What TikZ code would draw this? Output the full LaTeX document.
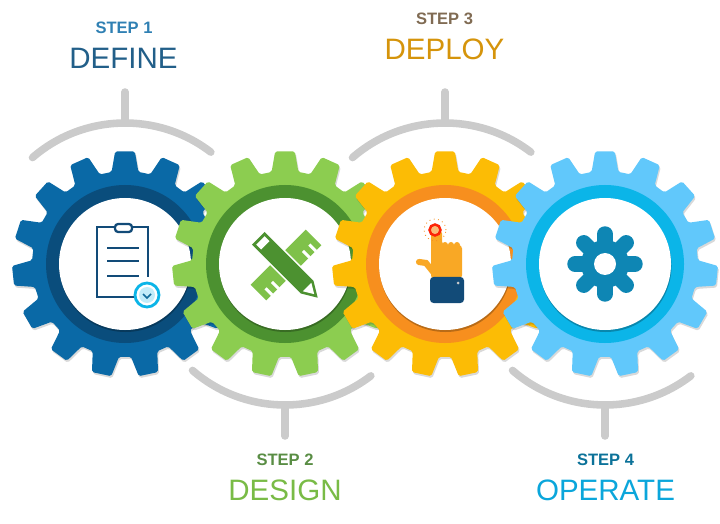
\documentclass[tikz,border=0pt]{standalone}
\usepackage{fontspec}
\setmainfont{Liberation Sans}
\usetikzlibrary{calc}

\definecolor{defineBlue}{HTML}{0A69A6}
\definecolor{defineRing}{HTML}{0A4D7C}
\definecolor{designGreen}{HTML}{8CCD50}
\definecolor{designRing}{HTML}{4C9130}
\definecolor{deployYellow}{HTML}{FCBC05}
\definecolor{deployRing}{HTML}{F78F1E}
\definecolor{operateBlue}{HTML}{61C8FB}
\definecolor{operateRing}{HTML}{0BB5E8}
\definecolor{armGray}{HTML}{CBCBCB}
\definecolor{iconNavy}{HTML}{124B78}
\definecolor{handOrange}{HTML}{F9A825}
\definecolor{flowerBlue}{HTML}{0E86B4}

\tikzset{
	arm/.style={draw=armGray, line width=4.3pt, line cap=round},
	steplabel/.style={font=\bfseries\fontsize{9.4}{12}\selectfont, anchor=center},
	titlelabel/.style={font=\fontsize{16.8}{20}\selectfont, anchor=center}
}

% the toothed wheel: #1 = centre x, #2 = wheel colour, #3 = ring colour
\newcommand{\gearwheel}[3]{
	\begin{scope}[shift={(#1,259)}]
		\fill [black, opacity=0.15, shift={(1,-2)}, rounded corners=1pt] (78:93)
			\foreach \a in {90,114,...,426}
			{
				-- ($(\a-8.3:93)$) -- ($(\a-5:113)$) -- ($(\a+5:113)$) -- ($(\a+8.3:93)$)
			} -- cycle;
		\fill [#2, rounded corners=1pt] (78:93)
			\foreach \a in {90,114,...,426}
			{
				-- ($(\a-8.3:93)$) -- ($(\a-5:113)$) -- ($(\a+5:113)$) -- ($(\a+8.3:93)$)
			} -- cycle;
		\fill [#3] (0,0) circle (79);
		\fill [black, opacity=0.25] (0.5,-2) circle (66);
		\fill [white] (0,0) circle (66);
	\end{scope}
}

% the curved arm and its stem: #1 = centre x, #2 = 1 above, -1 below
\newcommand{\gearm}[2]{
	\draw [arm] ($(#1,259)+(#2*131:141)$) arc [start angle=#2*131, end angle=#2*52.5, radius=141];
	\draw [arm] (#1,259+#2*141) -- (#1,259+#2*172);
}

\begin{document}
\begin{tikzpicture}[x=0.2mm, y=0.2mm]
	\useasboundingbox (0,0) rectangle (720,523);

	\begin{scope}
		\gearm{125}{1}
		\gearm{285}{-1}
		\gearm{445}{1}
		\gearm{605}{-1}
	\end{scope}

	\gearwheel{125}{defineBlue}{defineRing}
	\gearwheel{285}{designGreen}{designRing}
	\gearwheel{445}{deployYellow}{deployRing}
	\gearwheel{605}{operateBlue}{operateRing}

	% clipboard
	\begin{scope}[shift={(125,259)}]
		\draw [iconNavy, line width=1.5pt] (10,-33) -- (-28,-33) -- (-28,37) -- (23,37) -- (23,-13);
		\draw [iconNavy, line width=1.3pt, fill=white, rounded corners=1.8pt] (-10,32) rectangle (7,40);
		\foreach \y in {16,3,-12}
		{
			\draw [iconNavy, line width=1.7pt] (-18,\y) -- (14,\y);
		}
		\draw [operateRing, line width=1.6pt, fill=white] (22,-31) circle (12);
		\fill [operateRing!25] (22,-31) circle (8);
		\draw [iconNavy!70!operateRing, line width=1pt] (18,-30) -- (22,-34) -- (26,-30);
	\end{scope}

	% ruler and pencil
	\begin{scope}[shift={(286,258)}, rotate=45]
		\fill [designGreen!80!designRing] (-39,-11) rectangle (39,11);
		\foreach \x in {-31,-22,22,31}
		{
			\fill [white] (\x-1.5,-11.5) rectangle (\x+1.5,-2);
		}
	\end{scope}
	\begin{scope}[shift={(288,255)}, rotate=-45]
		\fill [white] (-44,-10.5) rectangle (30,10.5);
		\fill [designRing] (-42,-9) -- (27,-9) -- (42,0) -- (27,9) -- (-42,9) -- cycle;
		\fill [white] (-39,-6) rectangle (-32,6);
		\fill [white] (27,-6) -- (37,0) -- (27,6) -- cycle;
	\end{scope}

	% hand
	\begin{scope}
		\fill [handOrange, rounded corners=2pt]
			(431,244) -- (431,293) -- (442,293) -- (442,278) -- (462,278) -- (462,244) -- cycle;
		\foreach \x in {445,451,457}
		{
			\fill [handOrange] (\x,278) circle (3);
		}
		\draw [handOrange, line width=3.5pt, line cap=round] (419,261) -- (426,260) -- (434,250);
		\fill [iconNavy, rounded corners=2pt] (430,220) rectangle (464,246);
		\fill [armGray] (458,240) circle (1.5);
		\draw [red!75!deployRing, line width=1.4pt, fill=deployRing!60] (435,293) circle (5.5);
		\draw [deployRing, line width=0.5pt, dotted] (435,293) circle (11);
	\end{scope}

	% flower wheel
	\begin{scope}[shift={(605,259)}]
		\foreach \a in {0,45,...,315}
		{
			\draw [flowerBlue, line width=8.8pt, line cap=round] (0,0) -- (\a:30);
		}
		\fill [flowerBlue] (0,0) circle (24);
		\fill [white] (0,0) circle (11);
	\end{scope}

	\node [steplabel, text=defineBlue!85!white] (stepA) at (124,495.5) {STEP 1};
	\node [titlelabel, text=defineRing!90!white] (titleA) at (123.5,465) {DEFINE};
	\node [steplabel, text=designRing!75!gray] (stepB) at (285,63) {STEP 2};
	\node [titlelabel, text=designGreen!70!designRing] (titleB) at (285,33) {DESIGN};
	\node [steplabel, text=deployRing!30!black!70!white] (stepC) at (444.5,504) {STEP 3};
	\node [titlelabel, text=deployYellow!70!deployRing!85!black] (titleC) at (444.5,474) {DEPLOY};
	\node [steplabel, text=flowerBlue!85!black] (stepD) at (605.5,63) {STEP 4};
	\node [titlelabel, text=operateRing!80!defineBlue] (titleD) at (605.5,33) {OPERATE};
\end{tikzpicture}
\end{document}
